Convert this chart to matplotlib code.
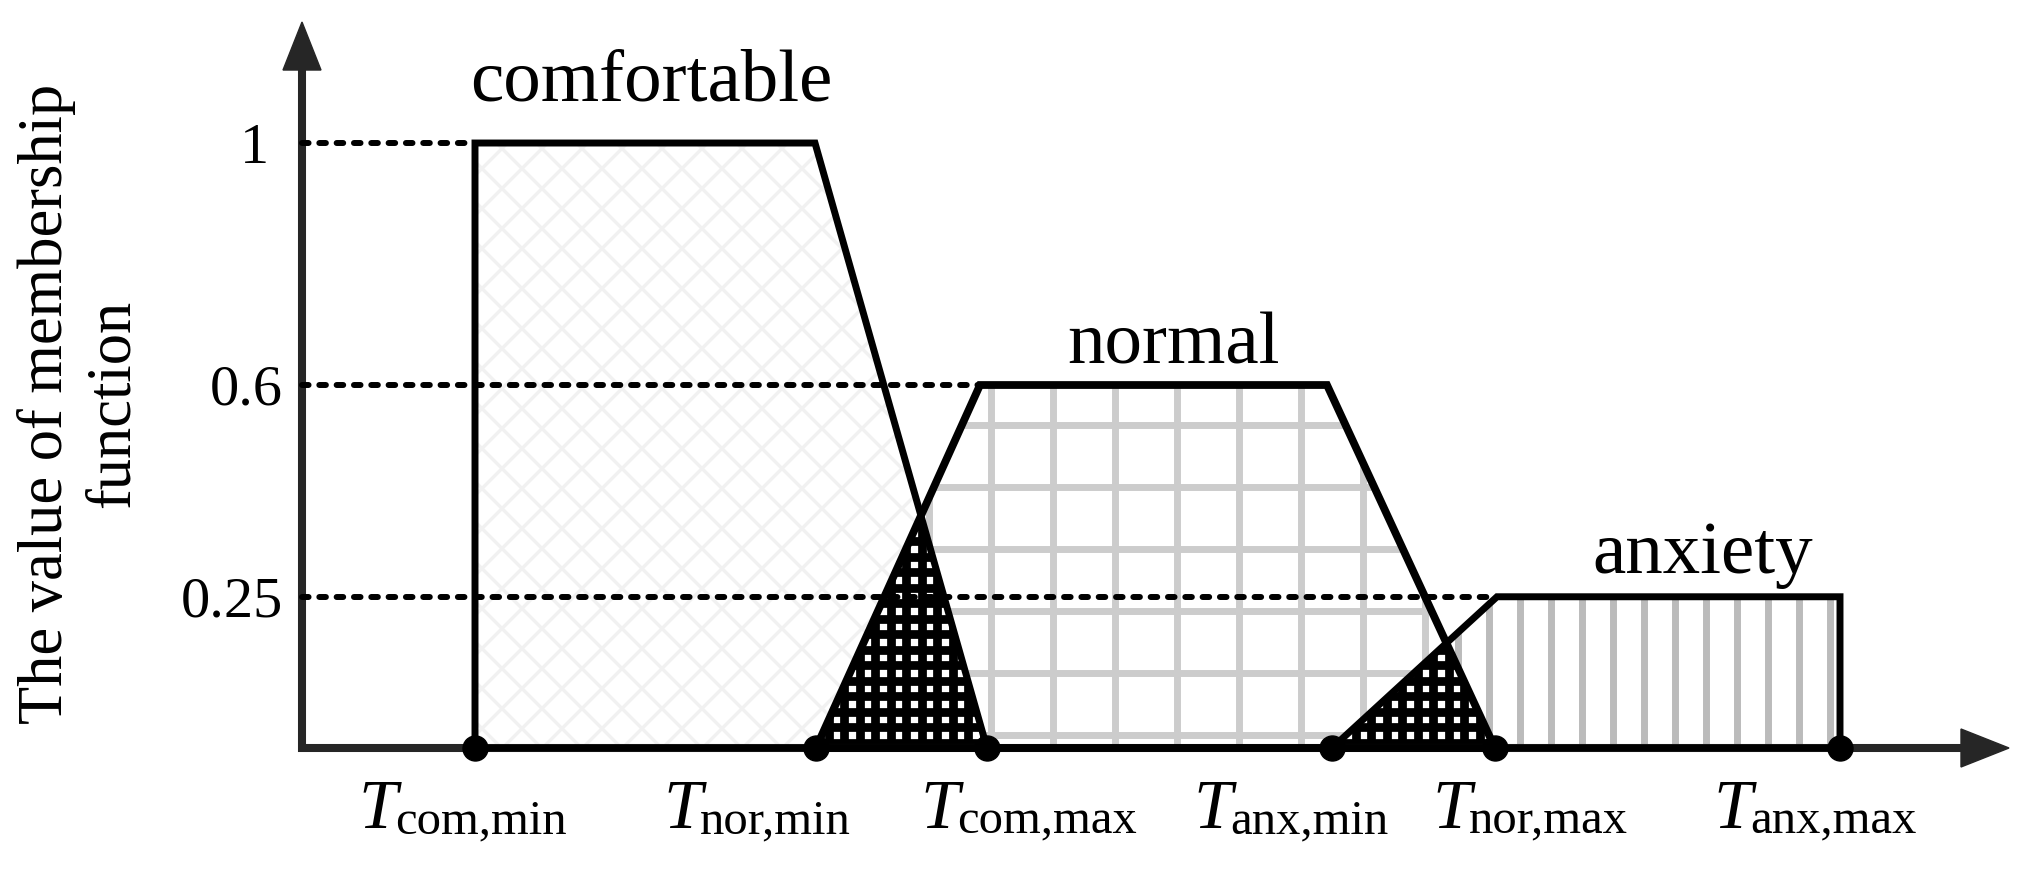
import numpy as np
import matplotlib.pyplot as plt
from matplotlib.patches import Polygon
from matplotlib.collections import LineCollection

plt.rcParams['font.family'] = 'Liberation Serif'

# membership functions (x in arbitrary temperature units, y = membership)
com_x = [1.73, 1.73, 5.13, 6.85]
com_y = [0, 1, 1, 0]
nor_x = [5.14, 6.78, 10.25, 11.93]
nor_y = [0, 0.6, 0.6, 0]
anx_x = [10.30, 11.95, 15.38, 15.38]
anx_y = [0, 0.25, 0.25, 0]

class_names = ['comfortable', 'normal', 'anxiety']
levels = [1, 0.6, 0.25]
level_labels = ['1', '0.6', '0.25']

t_names = ['com,min', 'nor,min', 'com,max', 'anx,min', 'nor,max', 'anx,max']
t_pos = [1.73, 5.14, 6.85, 10.30, 11.93, 15.38]

# layout
x_lo, x_hi = -3.02, 17.26
y_lo, y_hi = -0.2, 1.2364
px_x = (x_hi - x_lo) / 2028
px_y = (y_hi - y_lo) / 869

fig = plt.figure(figsize=(20.28, 8.69), dpi=100)
ax = fig.add_axes([0, 0, 1, 1])
ax.set_xlim(x_lo, x_hi)
ax.set_ylim(y_lo, y_hi)
ax.axis('off')


def clip_patch(xs, ys):
    p = Polygon(np.column_stack([xs, ys]), closed=True, facecolor='none',
                edgecolor='none')
    ax.add_patch(p)
    return p


def add_lines(segs, patch, color, lw, z):
    lc = LineCollection(segs, colors=color, linewidths=lw, zorder=z,
                        capstyle='butt')
    ax.add_collection(lc)
    lc.set_clip_path(patch)


def vlines(x0, step):
    xs = np.arange(x0 - 60 * step, x0 + 60 * step, step)
    return [[(x, -0.1), (x, 1.1)] for x in xs]


def hlines(y0, step):
    ys = np.arange(y0 - 60 * step, y0 + 60 * step, step)
    return [[(-1, y), (18, y)] for y in ys]


# comfortable: faint diamond pattern
p_com = clip_patch(com_x, com_y)
k = px_x / px_y
diag = []
for x0 in np.arange(-5, 12, 40 * px_x):
    diag.append([(x0, -0.1), (x0 + 1.2 * k, 1.1)])
    diag.append([(x0, -0.1), (x0 - 1.2 * k, 1.1)])
add_lines(diag, p_com, '#f1f1f1', 2.4, 1)

# normal: grey grid
p_nor = clip_patch(nor_x, nor_y)
add_lines(vlines(6.89, 62 * px_x) + hlines(0.0215, 62 * px_y), p_nor,
          '#cccccc', 5, 1)

# anxiety: grey vertical lines
p_anx = clip_patch(anx_x, anx_y)
add_lines(vlines(12.18, 31 * px_x), p_anx, '#bbbbbb', 5, 1)

# overlaps: min of neighbouring functions, black with white squares
xx = np.linspace(0, 16, 4001)
for (ax1, ay1), (ax2, ay2) in [((com_x, com_y), (nor_x, nor_y)),
                               ((nor_x, nor_y), (anx_x, anx_y))]:
    m = np.minimum(np.interp(xx, ax1, ay1, left=0, right=0),
                   np.interp(xx, ax2, ay2, left=0, right=0))
    keep = m > 0
    ox = np.concatenate([[xx[keep][0]], xx[keep], [xx[keep][-1]]])
    oy = np.concatenate([[0], m[keep], [0]])
    p_ov = Polygon(np.column_stack([ox, oy]), closed=True, facecolor='white',
                   edgecolor='none', zorder=2)
    ax.add_patch(p_ov)
    step_x, step_y = 15.5 * px_x, 15.5 * px_y
    add_lines(vlines(5.347 + step_x / 2, step_x) + hlines(0.0215 + step_y / 2, step_y),
              p_ov, 'black', 6.3, 3)

# outlines
for xs, ys, lw in [(com_x, com_y, 5), (nor_x, nor_y, 5.6), (anx_x, anx_y, 5)]:
    ax.plot(list(xs) + [xs[0]], list(ys) + [ys[0]], color='black', lw=lw,
            solid_joinstyle='miter', zorder=5)

# dashed guides from y axis to plateau start
for xs, ys in [(com_x, com_y), (nor_x, nor_y), (anx_x, anx_y)]:
    top = max(ys)
    x_start = xs[list(ys).index(top)]
    ax.plot([0, x_start], [top, top], color='black', lw=4.3,
            linestyle=(0, (1.1, 1.8)), dash_capstyle='round', zorder=6)

# axes with arrows
ax_col = '#262626'
x_end, y_end = 17.07, 1.2
head_x, head_y = 48 * px_x, 48 * px_y
ax.plot([0, 0, x_end - head_x], [y_end - head_y, 0, 0], color=ax_col, lw=5.8,
        solid_joinstyle='miter', zorder=4, clip_on=False)
ax.add_patch(Polygon([(x_end, 0), (x_end - head_x, 19 * px_y),
                      (x_end - head_x, -19 * px_y)], color=ax_col, zorder=4))
ax.add_patch(Polygon([(0, y_end), (-19 * px_x, y_end - head_y),
                      (19 * px_x, y_end - head_y)], color=ax_col, zorder=4))

# dots on the x axis
ax.plot(t_pos, np.zeros(len(t_pos)), 'o', ms=18, color='black', zorder=10)

# text
tick_x = [-0.33, -0.19, -0.19]
for tx, lv, lab in zip(tick_x, levels, level_labels):
    ax.text(tx, lv - 0.033, lab, fontsize=42, ha='right', va='baseline')

# x labels: italic T with upright subscript
label_x = [1.61, 4.66, 7.23, 9.96, 12.35, 15.16]
for lx, name in zip(label_x, t_names):
    left = lx - 105 * px_x
    ax.text(left, -0.132, 'T', fontsize=50, style='italic', ha='left',
            va='baseline')
    ax.text(left + 37 * px_x, -0.132 - 6 * px_y, name, fontsize=35,
            ha='left', va='baseline')

class_pos = [(3.49, 1.071), (8.72, 0.635), (14.01, 0.29)]
for (cx, cy), name in zip(class_pos, class_names):
    ax.text(cx, cy, name, fontsize=54, ha='center', va='baseline')

ax.text(-2.22, 0.569, 'The value of membership\nfunction', rotation=90,
        fontsize=45, ha='center', va='center', multialignment='center',
        linespacing=1.2)

fig.savefig('out.png', dpi=100)
